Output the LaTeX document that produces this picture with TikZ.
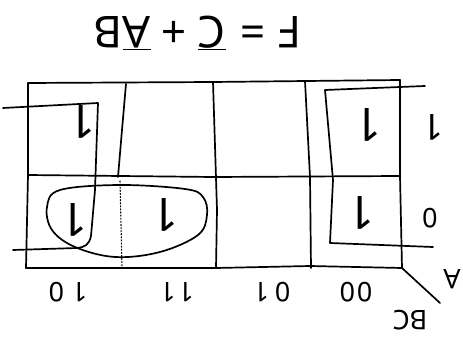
\documentclass[tikz,border=0pt]{standalone}
\usepackage{fontspec}
\setmainfont{Noto Sans}
\newcommand\myov[1]{$\overline{\hbox{#1}}$}
\begin{document}
\begin{tikzpicture}[x=1pt,y=-1pt,
  pen/.style={line width=1.7pt,line cap=round,line join=round},
  thin pen/.style={line width=1.1pt,line cap=round,line join=round},
  flip/.style={rotate=180,inner sep=0pt},
  cellone/.style={flip,font=\fontsize{46}{46}\selectfont},
  lab/.style={flip,font=\fontsize{27}{27}\selectfont},
  rowlab/.style={flip,font=\fontsize{36}{36}\selectfont}]
\useasboundingbox (0,0) rectangle (463,339);
% title
\node[flip,font=\fontsize{44}{46}\selectfont] (title) at (198,33)
  {F\hspace{14pt}=\hspace{14pt}\myov{C}\hspace{12pt}+\hspace{10pt}\myov{A}B};
% grid
\coordinate (tl) at (28,83);
\coordinate (tr) at (400,80);
\coordinate (ml) at (28,175);
\coordinate (mr) at (400,176);
\coordinate (bl) at (26,268);
\coordinate (br) at (402,268);
\draw[pen] (tl) -- (213,82) -- (tr);
\draw[pen] (tl) -- (ml) -- (bl);
\draw[pen] (tr) -- (mr) -- (br);
\draw[pen] (ml) -- (213,177) -- (mr);
\draw[pen] (bl) -- (216,268) -- (310,266) -- (br);
\draw[pen] (126,84) -- (122,130) -- (118,177);
\draw[thin pen,dotted] (120,181) -- (122,268);
\draw[pen] (213,82) -- (217,210) -- (216,268);
\draw[pen] (305,81) -- (310,177) -- (311,268);
% corner
\coordinate (cd) at (440,303);
\draw[pen] (br) -- (cd);
\node[lab] (labA) at (452,279) {A};
\node[lab] (labBC) at (410,320) {BC};
% column labels
\node[lab] (c1) at (68,292) {1\hspace{8pt}0};
\node[lab] (c2) at (177,292) {1\hspace{3pt}1};
\node[lab] (c3) at (272,292) {0\hspace{6pt}1};
\node[lab] (c4) at (356,292) {0\hspace{2pt}0};
% row labels
\node[rowlab] (r1) at (433,127) {1};
\node[lab] (r0) at (430,218) {0};
% cell ones
\node[cellone] (o11) at (82,122) {1};
\node[cellone] (o14) at (368,125) {1};
\node[cellone] (o01) at (74,220) {1};
\node[cellone] (o02) at (165,215) {1};
\node[cellone] (o04) at (361,213) {1};
% loops
\draw[pen] (433,247) -- (330,243) -- (333,180) -- (325,90) -- (425,86);
\draw[pen] (3,108) -- (98,103) -- (95,190) -- (91,236)
  .. controls (89,245) and (85,247) .. (77,248) -- (13,250);
\draw[pen] plot[smooth cycle,tension=0.6] coordinates {(60,190) (120,185) (185,189) (203,197) (207,215) (198,235) (160,252) (115,257) (75,247) (52,230) (47,207)};
\end{tikzpicture}
\end{document}
